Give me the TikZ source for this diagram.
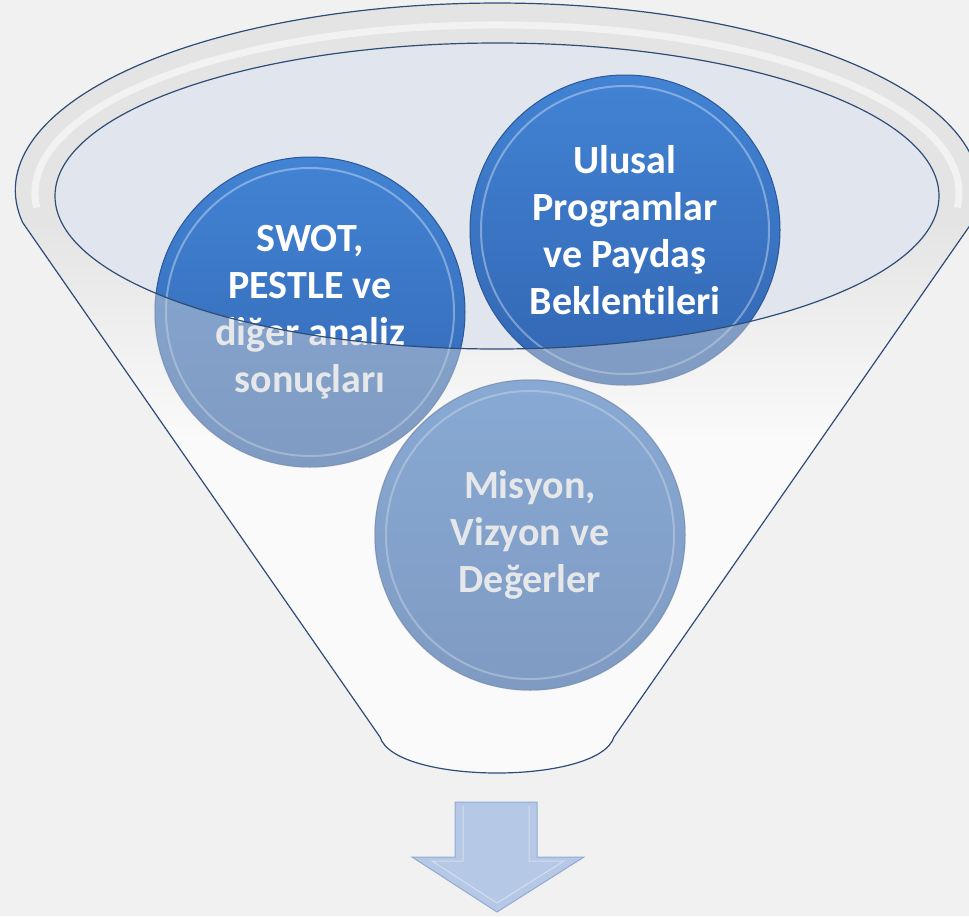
\documentclass[tikz,border=0pt]{standalone}
\usepackage{fontspec}
\setsansfont{Carlito}[Ligatures=NoCommon]
\definecolor{balltop}{HTML}{4283D4}
\definecolor{ballbot}{HTML}{3266B2}
\definecolor{balledge}{HTML}{2B5896}
\definecolor{funnelline}{HTML}{2E4D77}
\definecolor{rimgrey}{HTML}{E4E4E4}
\definecolor{bodywhite}{HTML}{FAFAFA}
\definecolor{mouthfill}{HTML}{E1E5EE}
\definecolor{washgrey}{HTML}{CDD0D4}
\definecolor{arrowfill}{HTML}{B5C8E5}
\definecolor{arrowedge}{HTML}{93ABD3}
\definecolor{bggrey}{HTML}{F1F1F1}
\begin{document}
\begin{tikzpicture}[x=1pt,y=-1pt,
    funnel/.style={insert path={(972,222.5) arc[start angle=370,end angle=170,x radius=482,y radius=187]
      -- (380,737) .. controls (395,785) and (599,785) .. (614,737) -- cycle}},
    mouth/.style={insert path={(497,196) ellipse[x radius=442,y radius=153]}},
    rimline/.style={draw=funnelline,line width=1.2pt},
    ball/.style={circle,minimum size=310pt,inner sep=0pt,
      top color=balltop,bottom color=ballbot,draw=balledge,line width=1pt,
      text=white,align=center,font=\sffamily\bfseries\fontsize{40}{47}\selectfont,
      path picture={\draw[white,line width=2pt,opacity=.35]
        (path picture bounding box.center) circle[radius=144pt];}}]
  \clip (0,0) rectangle (969,916);
  \fill[bggrey] (0,0) rectangle (969,916);
  \fill[bodywhite, funnel];
  \begin{scope}
    \path[clip, funnel];
    \fill[top color=rimgrey, bottom color=bodywhite, middle color=rimgrey] (0,0) rectangle (969,440);
    \draw[white,line width=7pt,opacity=.55] (957.2,207.6) arc[start angle=365,end angle=175,x radius=462,y radius=168];
  \end{scope}
  \fill[mouthfill, mouth];
  \node[ball] (swot) at (310,312) {SWOT,\\PESTLE ve\\diğer analiz\\sonuçları};
  \node[ball] (ulusal) at (625,230) {Ulusal\\Programlar\\ve Paydaş\\Beklentileri};
  \node[ball] (misyon) at (530,535) {Misyon,\\Vizyon ve\\Değerler};
  \begin{scope}
    \clip (swot.center) circle[radius=156] (ulusal.center) circle[radius=156] (misyon.center) circle[radius=156];
    \fill[washgrey, fill opacity=.5, even odd rule, funnel, mouth];
  \end{scope}
  \draw[rimline, funnel];
  \draw[rimline, mouth];
  \draw[fill=arrowfill, draw=arrowedge, line width=1pt]
    (455,802) -- (537,802) -- (537,857) -- (584,857) -- (497,912) -- (412,857) -- (455,857) -- cycle;
  \draw[white!40!arrowfill, line width=1pt]
    (463,806) -- (463,861) -- (432,861) -- (497,903) -- (564,861) -- (529,861) -- (529,806);
\end{tikzpicture}
\end{document}
